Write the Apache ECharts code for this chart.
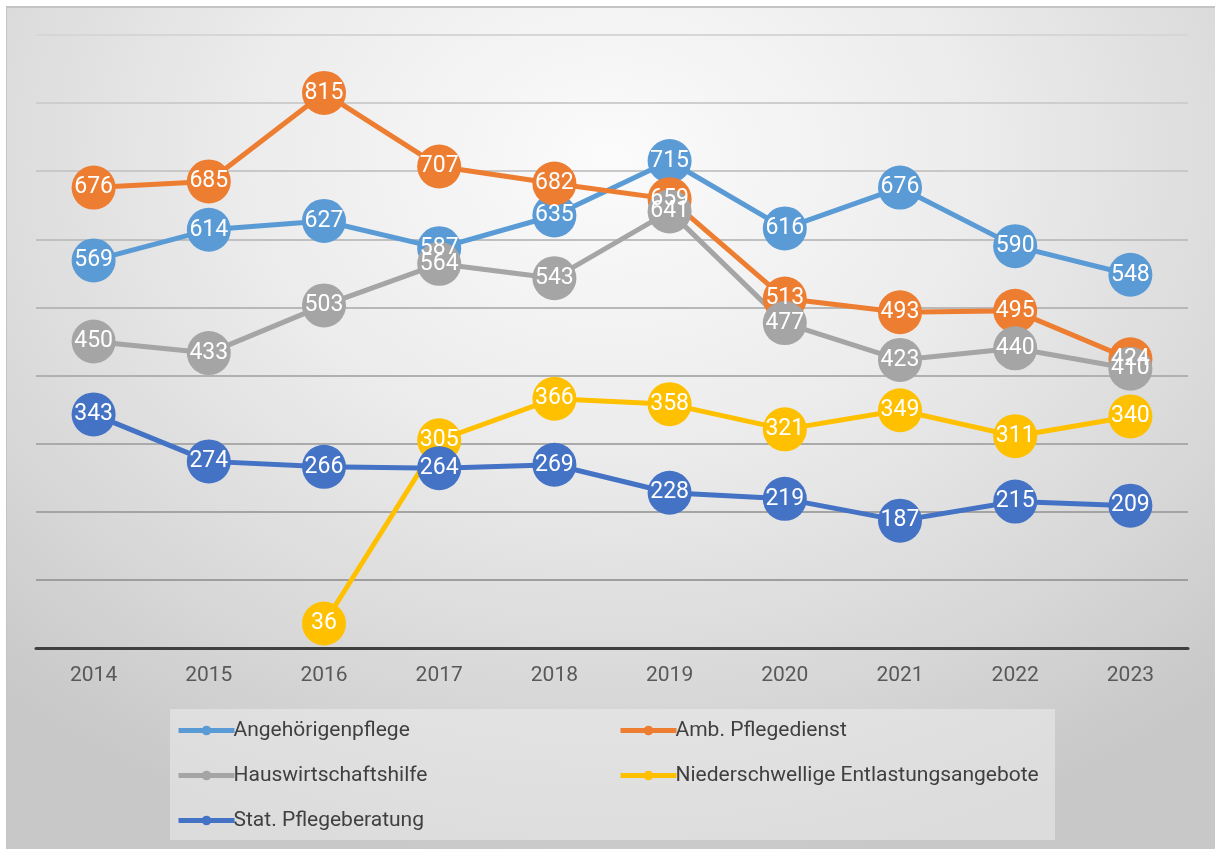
<!DOCTYPE html>
<html>
<head>
<meta charset="utf-8">
<script src="https://cdn.jsdelivr.net/npm/echarts@6/dist/echarts.min.js"></script>
<style>
  html, body { margin: 0; padding: 0; background: #fff; }
  #frame {
    position: absolute; left: 6px; top: 6px; width: 1209px; height: 843px;
    border-top: 2px solid #c4c4c4; border-left: 1px solid #c4c4c4;
    box-sizing: border-box;
    background: radial-gradient(ellipse 75% 85% at 50% 18%, #fbfbfb 0%, #ececec 40%, #d8d8d8 75%, #c8c8c8 100%);
  }
  #main { position: absolute; left: 0; top: 0; width: 1215px; height: 849px; }
</style>
</head>
<body>
<div id="frame"></div>
<div id="main"></div>
<script>
const years = ['2014', '2015', '2016', '2017', '2018', '2019', '2020', '2021', '2022', '2023'];
const angehoerige = [569, 614, 627, 587, 635, 715, 616, 676, 590, 548];
const ambulant = [676, 685, 815, 707, 682, 659, 513, 493, 495, 424];
const hauswirtschaft = [450, 433, 503, 564, 543, 641, 477, 423, 440, 410];
const niederschwellig = [null, null, 36, 305, 366, 358, 321, 349, 311, 340];
const stationaer = [343, 274, 266, 264, 269, 228, 219, 187, 215, 209];

const seriesDefs = [
  { name: 'Angehörigenpflege', color: '#5B9BD5', data: angehoerige },
  { name: 'Amb. Pflegedienst', color: '#ED7D31', data: ambulant },
  { name: 'Hauswirtschaftshilfe', color: '#A5A5A5', data: hauswirtschaft },
  { name: 'Niederschwellige Entlastungsangebote', color: '#FFC000', data: niederschwellig },
  { name: 'Stat. Pflegeberatung', color: '#4472C4', data: stationaer }
];

const font = 'Roboto, "Noto Sans", sans-serif';

const chart = echarts.init(document.getElementById('main'));

// two legend columns like the original layout
const legendBase = {
  orient: 'vertical',
  top: 715,
  itemGap: 24,
  itemWidth: 56,
  itemHeight: 12,
  lineStyle: { width: 5 },
  textStyle: { fontFamily: font, fontSize: 21, color: '#404040', padding: [0, 0, 0, -6] }
};

chart.setOption({
  backgroundColor: 'transparent',
  animation: false,
  graphic: [{
    type: 'rect',
    shape: { x: 170, y: 709, width: 885, height: 131 },
    style: { fill: 'rgba(236,236,236,0.55)' },
    z: -1
  }],
  legend: [
    Object.assign({}, legendBase, { left: 171, data: [seriesDefs[0].name, seriesDefs[2].name, seriesDefs[4].name] }),
    Object.assign({}, legendBase, { left: 613, data: [seriesDefs[1].name, seriesDefs[3].name] })
  ],
  grid: { left: 36, right: 27, top: 35, bottom: 201 },
  xAxis: {
    type: 'category',
    data: years,
    boundaryGap: true,
    axisLine: { lineStyle: { color: '#404040', width: 3 } },
    axisTick: { show: false },
    axisLabel: { fontFamily: font, fontSize: 21, color: '#595959', margin: 17 }
  },
  yAxis: {
    type: 'value',
    min: 0,
    max: 900,
    interval: 100,
    axisLabel: { show: false },
    axisLine: { show: false },
    axisTick: { show: false },
    splitLine: {
      lineStyle: {
        width: 2,
        color: ['#404040', '#9e9e9e', '#a4a4a4', '#aaaaaa', '#b0b0b0', '#b8b8b8', '#c0c0c0', '#c8c8c8', '#cecece', '#d6d6d6']
      }
    }
  },
  series: seriesDefs.map((s) => ({
    name: s.name,
    type: 'line',
    data: s.data,
    connectNulls: false,
    symbol: 'circle',
    symbolSize: 44,
    color: s.color,
    lineStyle: { color: s.color, width: 5 },
    itemStyle: { color: s.color },
    label: {
      show: true,
      position: 'inside',
      color: '#fff',
      fontFamily: font,
      fontSize: 23
    }
  }))
});
</script>
</body>
</html>
